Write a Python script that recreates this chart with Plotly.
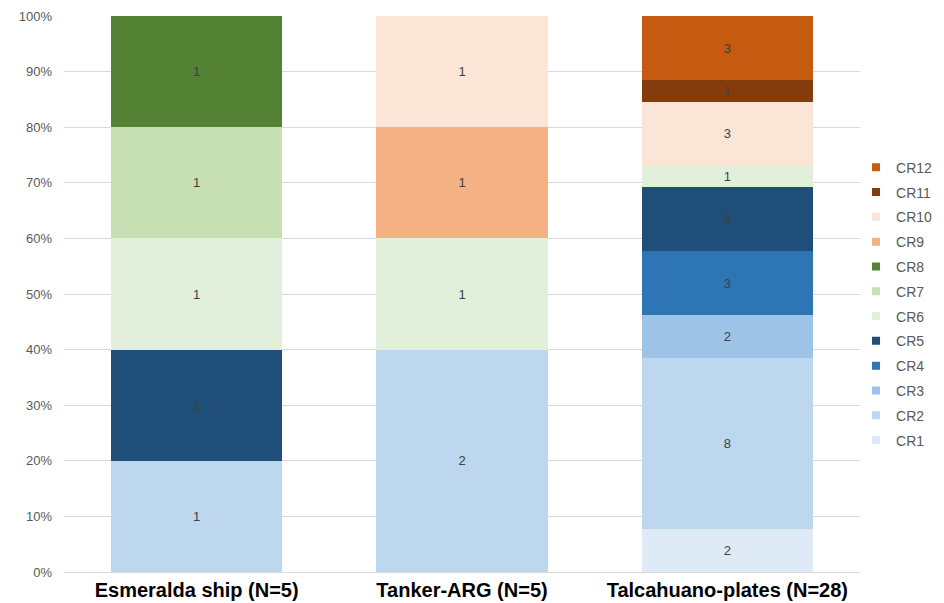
import plotly.graph_objects as go

categories = ["Esmeralda ship (N=5)", "Tanker-ARG (N=5)", "Talcahuano-plates (N=28)"]
series_names = ["CR1", "CR2", "CR3", "CR4", "CR5", "CR6", "CR7", "CR8", "CR9", "CR10", "CR11", "CR12"]
CR1 = [0, 0, 2]
CR2 = [1, 2, 8]
CR3 = [0, 0, 2]
CR4 = [0, 0, 3]
CR5 = [1, 0, 3]
CR6 = [1, 1, 1]
CR7 = [1, 0, 0]
CR8 = [1, 0, 0]
CR9 = [0, 1, 0]
CR10 = [0, 1, 3]
CR11 = [0, 0, 1]
CR12 = [0, 0, 3]
series_values = [CR1, CR2, CR3, CR4, CR5, CR6, CR7, CR8, CR9, CR10, CR11, CR12]
colors = ["#DEEBF7", "#BDD7EE", "#9DC3E6", "#2E75B6", "#1F4E79", "#E2EFDA",
          "#C6E0B4", "#548235", "#F4B183", "#FBE5D6", "#843C0C", "#C55A11"]
ytick_vals = list(range(0, 101, 10))
ytick_text = [f"{v}%" for v in ytick_vals]

fig = go.Figure()
for name, vals, col in zip(series_names, series_values, colors):
    yv = [v if v else None for v in vals]
    fig.add_trace(go.Bar(
        name=name, x=categories, y=yv,
        text=[str(v) if v else "" for v in vals],
        textposition="inside", insidetextanchor="middle", textangle=0,
        constraintext="none",
        textfont=dict(color="#404040", size=13, family="Liberation Sans, Arial, sans-serif"),
        marker=dict(color=col, line=dict(width=0)),
        showlegend=False, hoverinfo="name+y",
    ))
# legend entries (top = CR12) with small square swatches
for name, col in reversed(list(zip(series_names, colors))):
    fig.add_trace(go.Scatter(
        name=name, x=[None], y=[None], mode="markers",
        marker=dict(symbol="square", size=8, color=col),
        legendgroup=name, showlegend=True, hoverinfo="skip",
    ))

fig.update_layout(
    barmode="stack", barnorm="percent", bargap=0.355,
    width=944, height=603,
    margin=dict(l=64, r=84, t=16, b=31, autoexpand=False),
    plot_bgcolor="white", paper_bgcolor="white",
    font=dict(family="Liberation Sans, Arial, sans-serif", color="#595959"),
    legend=dict(x=0.995, y=0.756, xanchor="left", yanchor="top",
                traceorder="grouped", tracegroupgap=3.6,
                itemwidth=30,
                font=dict(size=14, color="#595959"),
                bgcolor="rgba(0,0,0,0)"),
    showlegend=True,
)
fig.update_yaxes(range=[0, 100], tickvals=ytick_vals, ticktext=ytick_text,
                 showgrid=True, gridcolor="#D9D9D9", gridwidth=1,
                 zeroline=False, showline=False, ticks="", automargin=False,
                 tickfont=dict(size=13, color="#595959"), ticklabelstandoff=11)
fig.update_xaxes(showline=True, linecolor="#D9D9D9", linewidth=1, ticks="",
                 automargin=False, showgrid=False,
                 tickfont=dict(size=20, color="black",
                               family="Liberation Sans Narrow, Arial Narrow, Liberation Sans, sans-serif",
                               weight="bold"))

fig.write_html("out.html", config={"displayModeBar": False},
               post_script="document.body.style.margin='0';")
